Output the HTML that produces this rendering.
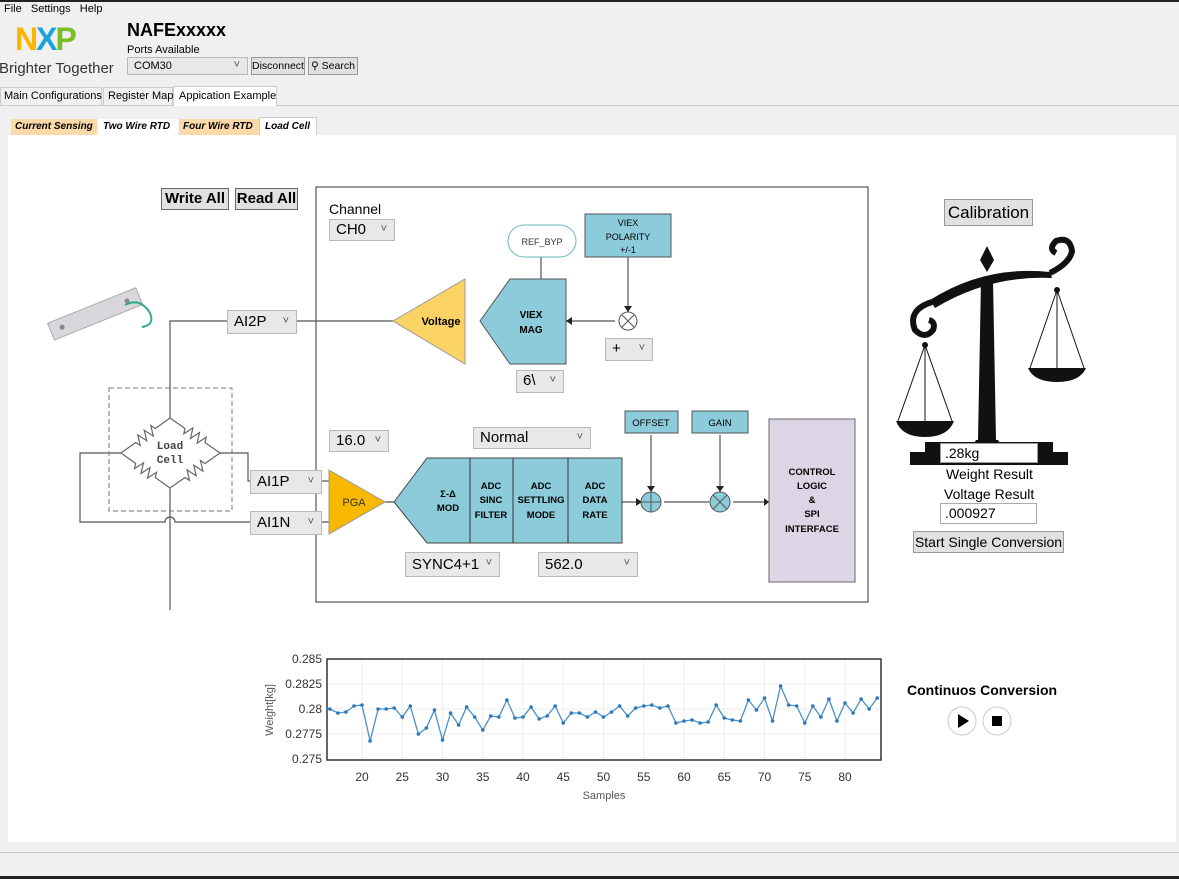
<!DOCTYPE html>
<html><head><meta charset="utf-8"><style>
*{margin:0;padding:0;box-sizing:border-box}
body{width:1179px;height:879px;overflow:hidden;background:#f0f0f0;font-family:"Liberation Sans","DejaVu Sans",sans-serif;position:relative;font-size:12px;color:#000}
.a{position:absolute;white-space:nowrap}
.dd{position:absolute;white-space:nowrap;background:#e8e8e8;border:1px solid #b8b8b8;font-size:15px;padding-left:6px;line-height:20px}
.dd:after{content:"˅";position:absolute;right:7px;top:-1px;font-size:11px;color:#555}
.btn{position:absolute;white-space:nowrap;overflow:hidden;background:#e1e1e1;border:1px solid #999;text-align:center}
</style></head><body>
<div class="a" style="left:0;top:0;width:1179px;height:2px;background:#222"></div>
<div class="a" style="left:4px;top:3px;font-size:11px">File&nbsp;&nbsp;&nbsp;Settings&nbsp;&nbsp;&nbsp;Help</div>
<div class="a" style="left:15px;top:22px;font-size:32px;font-weight:900;letter-spacing:-2px;line-height:34px"><span style="color:#f9b500">N</span><span style="color:#1aa3dc">X</span><span style="color:#7bbd24">P</span></div>
<div class="a" style="left:-1px;top:60px;font-size:15px;color:#333">Brighter Together</div>
<div class="a" style="left:127px;top:20px;font-size:18px;font-weight:bold">NAFExxxxx</div>
<div class="a" style="left:127px;top:44px;font-size:11px">Ports Available</div>
<div class="dd" style="left:127px;top:57px;width:121px;height:18px;font-size:11px;line-height:16px">COM30</div>
<div class="btn" style="left:251px;top:57px;width:54px;height:18px;font-size:10.5px;line-height:16px">Disconnect</div>
<div class="btn" style="left:308px;top:57px;width:50px;height:18px;font-size:10.5px;line-height:16px">&#9906; Search</div>
<div class="a" style="left:0;top:105px;width:1179px;height:1px;background:#ccc"></div>
<div class="a" style="left:0;top:87px;width:102px;height:19px;border:1px solid #ccc;font-size:11px;line-height:17px;padding-left:3px">Main Configurations</div>
<div class="a" style="left:103px;top:87px;width:70px;height:19px;border:1px solid #ccc;font-size:11px;line-height:17px;padding-left:4px">Register Map</div>
<div class="a" style="left:173px;top:86px;width:104px;height:20px;border:1px solid #ccc;border-bottom:none;background:#fff;font-size:11px;line-height:18px;padding-left:5px">Appication Example</div>
<div class="a" style="left:11px;top:119px;width:86px;height:16px;background:#fbd9a8;font-size:10px;font-weight:bold;font-style:italic;line-height:16px;padding-left:4px">Current Sensing</div>
<div class="a" style="left:98px;top:119px;width:80px;height:16px;background:#fff;font-size:10px;font-weight:bold;font-style:italic;line-height:16px;padding-left:5px">Two Wire RTD</div>
<div class="a" style="left:179px;top:119px;width:80px;height:16px;background:#fbd9a8;font-size:10px;font-weight:bold;font-style:italic;line-height:16px;padding-left:4px">Four Wire RTD</div>
<div class="a" style="left:259px;top:117px;width:58px;height:19px;background:#fff;border:1px solid #ccc;border-bottom:none;font-size:10px;font-weight:bold;font-style:italic;line-height:18px;padding-left:5px">Load Cell</div>
<div class="a" style="left:8px;top:135px;width:1168px;height:707px;background:#fff"></div>
<div class="a" style="left:0;top:852px;width:1179px;height:1px;background:#ccc"></div>
<div class="a" style="left:0;top:876px;width:1179px;height:3px;background:#222"></div>

<svg class="a" style="left:0;top:0" width="1179" height="879" font-family="Liberation Sans,sans-serif">
<rect x="316" y="187" width="552" height="415" fill="none" stroke="#555" stroke-width="1.2"/>
<!-- load cell image -->
<g transform="rotate(-22 95 315)"><rect x="48" y="305" width="95" height="18" fill="#d8d8dc" stroke="#aaa"/><circle cx="60" cy="314" r="2.5" fill="#888"/><circle cx="130" cy="314" r="2.5" fill="#888"/></g>
<path d="M125 305 q15 -8 25 8 q5 12 -8 14" fill="none" stroke="#3a8" stroke-width="2"/>
<!-- wires -->
<g stroke="#555" stroke-width="1.2" fill="none">
<path d="M170 408 V321 H228 M297 321 H393"/>
<path d="M170 408 V418 M121 453 H80 V522 H165 a5 5 0 0 1 10 0 H250"/>
<path d="M220 453 H248 V481 H250 M170 488 V610"/>
<path d="M320 481 H329 M320 522 H329"/>
<path d="M385 502 H394 M622 502 H640 M664 502 H709 M733 502 H769"/>
<path d="M541 279 V255 M628 257 V313 M651 435 V490 M720 435 V490 M615 321 H566"/>
</g>
<rect x="109" y="388" width="123" height="123" fill="none" stroke="#777" stroke-dasharray="5,3"/>
<g id="res" fill="none" stroke="#666" stroke-width="1.2"></g>
<text x="170" y="449" font-family="Liberation Mono,monospace" font-size="11" font-weight="bold" text-anchor="middle" fill="#444">Load</text>
<text x="170" y="463" font-family="Liberation Mono,monospace" font-size="11" font-weight="bold" text-anchor="middle" fill="#444">Cell</text>
<!-- voltage -->
<polygon points="393,321 465,279 465,364" fill="#fbd264" stroke="#999"/>
<text x="441" y="325" font-size="11" font-weight="bold" text-anchor="middle">Voltage</text>
<polygon points="480,321 510,279 566,279 566,364 510,364" fill="#8ccbd9" stroke="#555"/>
<text x="531" y="318" font-size="10" font-weight="bold" text-anchor="middle">VIEX</text>
<text x="531" y="333" font-size="10" font-weight="bold" text-anchor="middle">MAG</text>
<polygon points="566,321 572,317 572,325" fill="#222"/>
<rect x="508" y="225" width="68" height="32" rx="16" fill="#fff" stroke="#6bb"/>
<text x="542" y="245" font-size="9" text-anchor="middle" fill="#333">REF_BYP</text>
<rect x="585" y="214" width="86" height="43" fill="#8ccbd9" stroke="#555"/>
<text x="628" y="226" font-size="9" text-anchor="middle">VIEX</text><text x="628" y="240" font-size="9" text-anchor="middle">POLARITY</text><text x="628" y="253" font-size="9" text-anchor="middle">+/-1</text>
<circle cx="628" cy="321" r="9" fill="#fff" stroke="#555"/><path d="M622 315 l12 12 M634 315 l-12 12" stroke="#555"/>
<polygon points="628,312 624,306 632,306" fill="#222"/>
<!-- lower -->
<polygon points="329,470 385,502 329,534" fill="#f8b800" stroke="#999"/>
<text x="354" y="506" font-size="11" text-anchor="middle" fill="#333">PGA</text>
<polygon points="394,502 427,458 622,458 622,543 427,543" fill="#8ccbd9" stroke="#444"/>
<path d="M470 458 V543 M513 458 V543 M568 458 V543" stroke="#333"/>
<g font-size="9.5" font-weight="bold" text-anchor="middle">
<text x="448" y="497">Σ-Δ</text><text x="448" y="511">MOD</text>
<text x="491" y="489">ADC</text><text x="491" y="503">SINC</text><text x="491" y="518">FILTER</text>
<text x="541" y="489">ADC</text><text x="541" y="503">SETTLING</text><text x="541" y="518">MODE</text>
<text x="595" y="489">ADC</text><text x="595" y="503">DATA</text><text x="595" y="518">RATE</text>
</g>
<polygon points="642,502 636,498 636,506" fill="#222"/>
<circle cx="651" cy="502" r="10" fill="#8ccbd9" stroke="#555"/><path d="M641 502 H661 M651 492 V512" stroke="#555"/>
<circle cx="720" cy="502" r="10" fill="#8ccbd9" stroke="#555"/><path d="M713 495 l14 14 M727 495 l-14 14" stroke="#555"/>
<polygon points="651,492 647,486 655,486" fill="#222"/><polygon points="720,492 716,486 724,486" fill="#222"/>
<polygon points="769,502 764,498 764,506" fill="#222"/>
<rect x="625" y="411" width="53" height="22" fill="#8ccbd9" stroke="#555"/><text x="651" y="426" font-size="9.5" text-anchor="middle">OFFSET</text>
<rect x="692" y="411" width="56" height="22" fill="#8ccbd9" stroke="#555"/><text x="720" y="426" font-size="9.5" text-anchor="middle">GAIN</text>
<rect x="769" y="419" width="86" height="163" fill="#dcd5e5" stroke="#666"/>
<g font-size="9.5" font-weight="bold" text-anchor="middle"><text x="812" y="475">CONTROL</text><text x="812" y="489">LOGIC</text><text x="812" y="503">&amp;</text><text x="812" y="517">SPI</text><text x="812" y="532">INTERFACE</text></g>
<!-- scale -->
<g fill="#111">
<path d="M981 280 h12 l3 160 h-18z"/>
<path d="M976 440 h22 l6 10 h-34z"/>
<rect x="910" y="452" width="158" height="13"/>
<rect x="925" y="442" width="128" height="12"/>
<path d="M930 300 Q985 265 1050 272 L1052 278 Q990 275 935 308z"/>
<path d="M987 272 l-7 -12 l7 -14 l7 14z"/>
<path d="M896 421 h58 q-6 16 -29 16 q-23 0 -29 -16z"/>
<path d="M1028 368 h58 q-6 14 -29 14 q-23 0 -29 -14z"/>
<circle cx="925" cy="345" r="3"/><circle cx="1057" cy="290" r="3"/>
</g>
<path d="M932 302 q-25 8 -17 28 q10 10 18 0 q3 -8 -4 -10" fill="none" stroke="#111" stroke-width="6"/>
<path d="M1050 273 q20 -10 22 -22 q-2 -15 -16 -10 q-8 8 0 12" fill="none" stroke="#111" stroke-width="6"/>
<path d="M925 345 L898 421 M925 345 L952 421 M925 345 V421 M1057 290 L1030 368 M1057 290 L1084 368 M1057 290 V368" stroke="#111" stroke-width="1"/>
<!-- chart -->
<g id="grid"></g>
<rect x="327" y="659" width="554" height="101" fill="none" stroke="#333" stroke-width="1.5"/>
<polyline id="pl" fill="none" stroke="#4a90c8" stroke-width="1.3"/>
<g id="pts" fill="#2a78bd"></g>
<g font-size="12" fill="#333" text-anchor="end">
<text x="322" y="663">0.285</text><text x="322" y="688">0.2825</text><text x="322" y="713">0.28</text><text x="322" y="738">0.2775</text><text x="322" y="763">0.275</text></g>
<g id="xl" font-size="12" fill="#333" text-anchor="middle"></g>
<text x="604" y="799" font-size="11" fill="#555" text-anchor="middle">Samples</text>
<text transform="translate(273 710) rotate(-90)" font-size="11" fill="#555" text-anchor="middle">Weight[kg]</text>
<circle cx="962" cy="721" r="14" fill="#fff" stroke="#ccc"/><polygon points="958,714 958,728 969,721" fill="#000"/>
<circle cx="997" cy="721" r="14" fill="#fff" stroke="#ccc"/><rect x="992" y="716" width="10" height="10" fill="#000"/>
</svg>
<div class="btn" style="left:161px;top:188px;width:68px;height:22px;font-size:15px;font-weight:bold;line-height:20px;border-color:#666">Write All</div>
<div class="btn" style="left:235px;top:188px;width:63px;height:22px;font-size:15px;font-weight:bold;line-height:20px;border-color:#666">Read All</div>
<div class="a" style="left:329px;top:201px;font-size:14px">Channel</div>
<div class="dd" style="left:329px;top:219px;width:66px;height:22px">CH0</div>
<div class="dd" style="left:227px;top:310px;width:70px;height:24px;line-height:22px">AI2P</div>
<div class="dd" style="left:605px;top:338px;width:48px;height:23px">+</div>
<div class="dd" style="left:516px;top:370px;width:48px;height:23px">6\</div>
<div class="dd" style="left:329px;top:430px;width:60px;height:22px">16.0</div>
<div class="dd" style="left:473px;top:427px;width:118px;height:22px">Normal</div>
<div class="dd" style="left:250px;top:470px;width:72px;height:24px;line-height:22px">AI1P</div>
<div class="dd" style="left:250px;top:511px;width:72px;height:24px;line-height:22px">AI1N</div>
<div class="dd" style="left:405px;top:552px;width:95px;height:25px;line-height:23px">SYNC4+1</div>
<div class="dd" style="left:538px;top:552px;width:100px;height:25px;line-height:23px">562.0</div>
<div class="btn" style="left:944px;top:199px;width:89px;height:27px;font-size:17px;line-height:25px">Calibration</div>
<div class="a" style="left:940px;top:443px;width:98px;height:20px;background:#fff;border:1px solid #999;font-size:14px;line-height:18px;padding-left:4px">.28kg</div>
<div class="a" style="left:946px;top:466px;font-size:14px">Weight Result</div>
<div class="a" style="left:944px;top:486px;font-size:14px">Voltage Result</div>
<div class="a" style="left:940px;top:503px;width:97px;height:21px;background:#fff;border:1px solid #aaa;font-size:14px;line-height:19px;padding-left:4px">.000927</div>
<div class="btn" style="left:913px;top:531px;width:151px;height:22px;font-size:14px;line-height:20px">Start Single Conversion</div>
<div class="a" style="left:907px;top:682px;font-size:14px;font-weight:bold">Continuos Conversion</div>
<script>
var ns="http://www.w3.org/2000/svg";
// resistors
var rg=document.getElementById('res');
function res(x1,y1,x2,y2){var dx=x2-x1,dy=y2-y1,L=Math.sqrt(dx*dx+dy*dy),ux=dx/L,uy=dy/L,nx=-uy,ny=ux;
var d='M'+x1+' '+y1,a=L*0.3,b=L*0.7,n=6,st=(b-a)/n;
d+=' L'+(x1+ux*a)+' '+(y1+uy*a);
for(var i=0;i<n;i++){var t=a+st*(i+0.5),s=(i%2?-1:1)*5;d+=' L'+(x1+ux*t+nx*s).toFixed(1)+' '+(y1+uy*t+ny*s).toFixed(1);}
d+=' L'+(x1+ux*b)+' '+(y1+uy*b)+' L'+x2+' '+y2;
var p=document.createElementNS(ns,'path');p.setAttribute('d',d);rg.appendChild(p);}
res(170,418,121,453);res(170,418,220,453);res(121,453,170,488);res(220,453,170,488);
var v=[.2800,.2796,.2797,.2803,.2804,.2768,.2800,.2800,.2801,.2792,.2803,.2775,.2781,.2799,.2769,.2796,.2784,.2802,.2792,.2779,.2793,.2792,.2809,.2791,.2792,.2802,.2790,.2793,.2803,.2786,.2796,.2796,.2792,.2797,.2792,.2797,.2803,.2793,.2801,.2803,.2804,.2801,.2803,.2786,.2788,.2789,.2786,.2787,.2804,.2791,.2789,.2788,.2809,.2799,.2811,.2788,.2823,.2804,.2803,.2786,.2803,.2792,.2810,.2788,.2806,.2796,.2810,.2800,.2811];
var p=[],g=document.getElementById('pts');
function X(s){return 362+(s-20)*8.05}function Y(w){return 659+(0.285-w)/0.01*100}
v.forEach(function(w,i){var x=X(16+i),y=Y(w);p.push(x.toFixed(1)+','+y.toFixed(1));var c=document.createElementNS(ns,'circle');c.setAttribute('cx',x);c.setAttribute('cy',y);c.setAttribute('r',1.8);g.appendChild(c);});
document.getElementById('pl').setAttribute('points',p.join(' '));
var gr=document.getElementById('grid'),xl=document.getElementById('xl');
for(var s=20;s<=80;s+=5){var l=document.createElementNS(ns,'line');l.setAttribute('x1',X(s));l.setAttribute('x2',X(s));l.setAttribute('y1',659);l.setAttribute('y2',760);l.setAttribute('stroke','#eee');gr.appendChild(l);
var t=document.createElementNS(ns,'text');t.setAttribute('x',X(s));t.setAttribute('y',781);t.textContent=s;xl.appendChild(t);}
for(var k=1;k<4;k++){var l=document.createElementNS(ns,'line');l.setAttribute('x1',327);l.setAttribute('x2',881);l.setAttribute('y1',659+k*25);l.setAttribute('y2',659+k*25);l.setAttribute('stroke','#eee');gr.appendChild(l);}
</script>
</body></html>
